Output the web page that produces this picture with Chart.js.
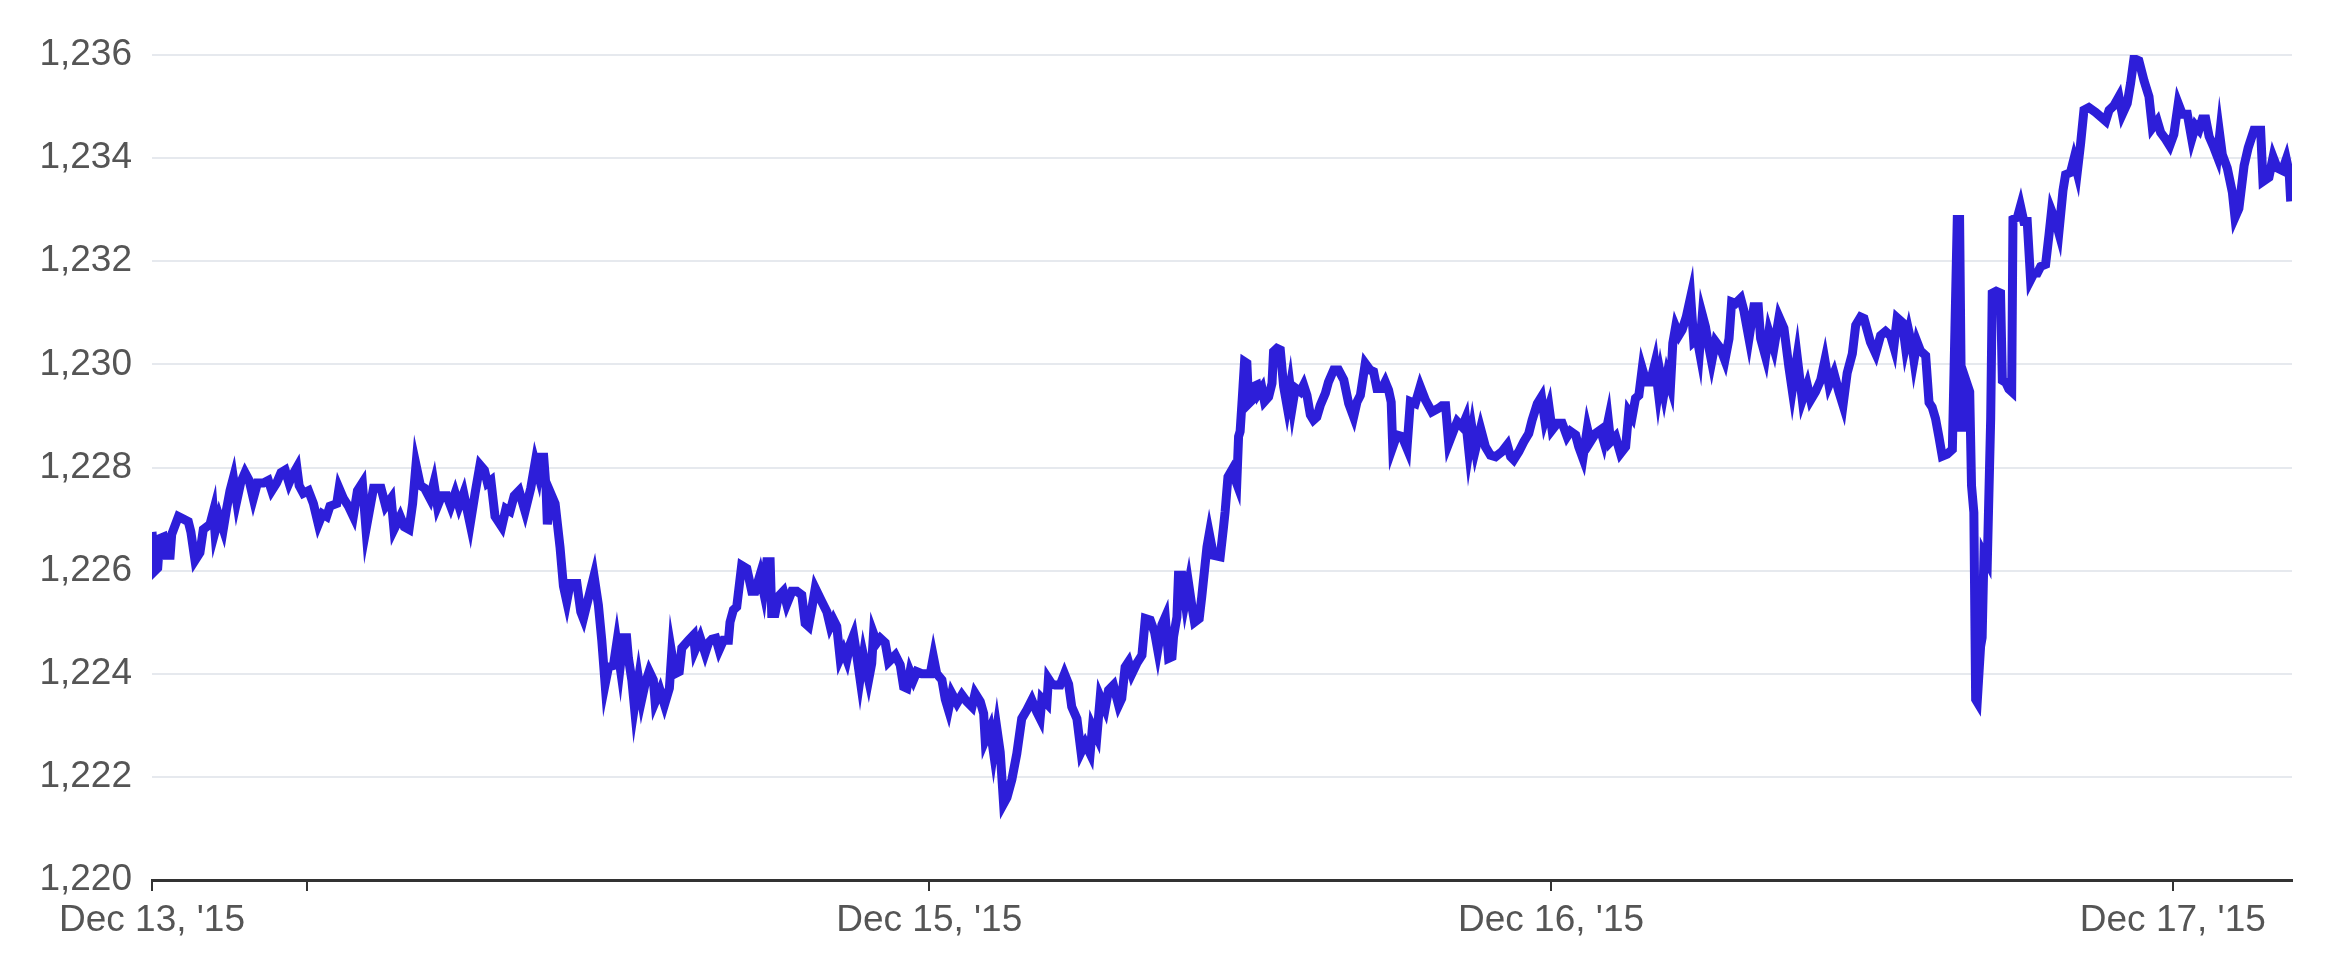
<!DOCTYPE html>
<html>
<head>
<meta charset="utf-8">
<script src="https://cdn.jsdelivr.net/npm/chart.js@4.4.1/dist/chart.umd.min.js"></script>
<style>
  html, body { margin: 0; padding: 0; background: #fff; }
  #chart { display: block; }
</style>
</head>
<body>
<canvas id="chart" width="2338" height="980"></canvas>
<script>
// hours since Dec 13 00:00
const hours = [
  18.0, 18.12, 18.22, 18.3, 18.44, 18.57, 18.7, 18.76, 19.02, 19.21,
  19.4, 19.5, 19.66, 19.85, 19.98, 20.24, 20.37, 20.43, 20.59, 20.75,
  20.88, 21.01, 21.14, 21.27, 21.42, 21.59, 21.75, 21.91, 22.07, 22.3,
  22.49, 22.62, 22.81, 22.98, 23.14, 23.29, 23.42, 23.59, 23.68, 23.84,
  24.04, 24.23, 24.42, 24.58, 24.74, 24.87, 25.13, 25.22, 25.39, 25.58,
  25.77, 25.93, 26.12, 26.26, 26.55, 26.84, 27.02, 27.23, 27.34, 27.58,
  27.74, 27.92, 28.06, 28.19, 28.36, 28.52, 28.73, 28.88, 29.02, 29.18,
  29.38, 29.53, 29.7, 29.85, 30.03, 30.28, 30.47, 30.66, 30.83, 30.95,
  31.08, 31.24, 31.5, 31.66, 31.82, 31.98, 32.17, 32.4, 32.62, 32.79,
  32.92, 33.02, 33.12, 33.21, 33.26, 33.39, 33.56, 33.75, 33.88, 34.01,
  34.14, 34.4, 34.55,
  34.65, 34.91, 35.06, 35.23, 35.36, 35.49, 35.62, 35.81, 35.94, 36.07,
  36.2, 36.32, 36.39, 36.52, 36.62, 36.78, 36.9, 37.03, 37.19, 37.35,
  37.42, 37.61, 37.78, 37.97, 38.06, 38.19, 38.35, 38.45, 38.71, 38.9,
  38.96, 39.16, 39.35, 39.48, 39.61, 39.76, 39.89, 40.06, 40.25, 40.31,
  40.44, 40.57, 40.76, 40.96, 41.15, 41.28, 41.47, 41.6, 41.73, 41.86,
  41.92, 42.05, 42.18, 42.37, 42.5, 42.7, 42.89, 43.08, 43.21, 43.34,
  43.47, 43.6, 43.85, 44.05, 44.18, 44.3, 44.43, 44.56, 44.69, 44.82,
  44.95, 45.08, 45.21, 45.33, 45.46, 45.66, 45.78, 45.85, 45.98, 46.11,
  46.3, 46.43, 46.69, 46.88, 47.01, 47.14, 47.26, 47.39, 47.52, 47.71,
  48.04, 48.16, 48.29, 48.49, 48.62, 48.74, 48.87, 49.07, 49.26, 49.45,
  49.65, 49.77, 49.97, 50.1, 50.16, 50.35, 50.48, 50.61, 50.74, 50.87,
  51.0,
  51.19, 51.38, 51.57, 51.77, 51.96, 52.15, 52.28, 52.35, 52.54, 52.6,
  52.73, 52.86, 53.05, 53.22, 53.38, 53.5, 53.7, 53.86, 54.02, 54.21,
  54.3, 54.47, 54.6, 54.79, 54.92, 55.11, 55.31, 55.43, 55.56, 55.69,
  55.82, 56.01, 56.21, 56.34, 56.53, 56.7, 56.82, 56.98, 57.11, 57.24,
  57.37, 57.43, 57.56, 57.62, 57.75, 57.88, 58.01, 58.14, 58.24, 58.42,
  58.52, 58.65, 58.72, 58.81, 58.97, 59.23, 59.36, 59.42, 59.53, 59.68,
  59.87, 59.94, 60.0, 60.09, 60.17, 60.26, 60.33, 60.45, 60.52, 60.65,
  60.71, 60.84, 60.94, 61.1, 61.23, 61.29, 61.42, 61.55, 61.68, 61.81,
  61.93, 62.02, 62.13, 62.32, 62.45, 62.58, 62.71, 62.83, 62.96, 63.09,
  63.29, 63.41, 63.61, 63.8, 64.0, 64.19, 64.38, 64.51, 64.64, 64.83,
  65.02, 65.15, 65.28, 65.47, 65.6, 65.73, 65.83, 65.89, 66.05, 66.25,
  66.44, 66.57, 66.76, 66.95, 67.15, 67.4, 67.66, 67.79, 67.93,
  68.05, 68.25, 68.38, 68.57, 68.7, 68.83, 68.96, 69.08, 69.28, 69.47,
  69.66, 69.86, 70.11, 70.31, 70.44, 70.56, 70.76, 70.95, 71.14, 71.27,
  71.47, 71.63, 71.76, 71.92, 72.04, 72.24, 72.43, 72.62, 72.75, 72.95,
  73.07, 73.23, 73.4, 73.52, 73.72, 73.91, 74.04, 74.21, 74.3, 74.49,
  74.68, 74.88, 75.0, 75.13, 75.26, 75.39, 75.52, 75.67, 75.84, 76.01,
  76.14, 76.23, 76.36, 76.48, 76.61, 76.7, 76.81, 76.94, 77.06, 77.22,
  77.39, 77.51, 77.64, 77.73, 77.84, 77.96, 78.09, 78.2, 78.35, 78.54,
  78.71, 78.87, 78.97, 79.12, 79.32, 79.44, 79.64, 79.83, 80.0, 80.09,
  80.28, 80.41, 80.6, 80.8, 80.99, 81.18, 81.31, 81.5, 81.7, 81.89,
  82.02, 82.21, 82.41, 82.57, 82.73, 82.92, 83.11, 83.27, 83.43, 83.63,
  83.76, 83.95, 84.08,
  84.33, 84.53, 84.72, 84.91, 85.11, 85.23, 85.36, 85.56, 85.68, 85.81,
  85.94, 86.01, 86.13, 86.26, 86.46, 86.59, 86.71, 86.84, 86.97, 87.1,
  87.29, 87.49, 87.59, 87.68, 87.77, 87.85, 87.94, 88.03, 88.1, 88.16,
  88.23, 88.32, 88.39, 88.45, 88.58, 88.64, 88.71, 88.84, 88.97, 89.03,
  89.18, 89.35, 89.42, 89.55, 89.67, 89.78, 89.83, 90.0, 90.12, 90.25,
  90.38, 90.51, 90.64, 90.77, 90.9, 91.09, 91.22, 91.32, 91.48, 91.6,
  91.76, 91.86, 92.05, 92.18, 92.31, 92.44, 92.57, 92.76, 93.02, 93.41,
  93.54, 93.73, 93.92, 94.05, 94.24, 94.37, 94.5, 94.69, 94.89, 95.08,
  95.21, 95.4, 95.53, 95.72, 95.88, 96.04, 96.21, 96.37, 96.56, 96.73,
  96.88, 97.01, 97.14, 97.27, 97.4, 97.59, 97.72, 97.81, 97.91, 98.1,
  98.3, 98.4, 98.55, 98.75, 98.91, 99.13, 99.39, 99.48, 99.71, 99.87,
  100.03, 100.23, 100.38, 100.49, 100.55
];

const prices = [
  1226.75, 1226.0, 1226.05, 1226.62, 1226.65, 1226.3, 1226.3, 1226.7, 1227.05, 1227.0,
  1226.95, 1226.75, 1226.2, 1226.35, 1226.8, 1226.9, 1227.15, 1226.75, 1227.05, 1226.8,
  1227.2, 1227.55, 1227.8, 1227.35, 1227.7, 1227.9, 1227.75, 1227.4, 1227.7, 1227.7,
  1227.75, 1227.55, 1227.7, 1227.9, 1227.95, 1227.7, 1227.85, 1228.0, 1227.65, 1227.5,
  1227.55, 1227.3, 1226.9, 1227.1, 1227.05, 1227.25, 1227.3, 1227.6, 1227.4, 1227.25,
  1227.05, 1227.55, 1227.7, 1226.8, 1227.6, 1227.6, 1227.25, 1227.4, 1226.8, 1227.05,
  1226.85, 1226.8, 1227.3, 1228.05, 1227.65, 1227.6, 1227.4, 1227.7, 1227.25, 1227.45,
  1227.45, 1227.25, 1227.5, 1227.25, 1227.5, 1226.9, 1227.5, 1228.05, 1227.95, 1227.7,
  1227.75, 1227.05, 1226.85, 1227.2, 1227.15, 1227.45, 1227.55, 1227.15, 1227.6, 1228.1,
  1227.85, 1228.2, 1228.2, 1227.6, 1226.9, 1227.5, 1227.3, 1226.45, 1225.7, 1225.4,
  1225.75, 1225.75, 1225.2,
  1225.07, 1225.6, 1225.9, 1225.33, 1224.65, 1223.8, 1224.13, 1224.16, 1224.6, 1224.13,
  1224.7, 1224.7, 1224.3, 1223.88, 1223.36, 1223.9, 1223.5, 1223.8, 1224.05, 1223.88,
  1223.45, 1223.68, 1223.4, 1223.72, 1224.4, 1224.0, 1224.04, 1224.5, 1224.65, 1224.75,
  1224.46, 1224.7, 1224.4, 1224.6, 1224.67, 1224.69, 1224.46, 1224.65, 1224.65, 1225.0,
  1225.24, 1225.3, 1226.1, 1226.04, 1225.6, 1225.6, 1225.92, 1225.6, 1226.17, 1226.17,
  1225.17, 1225.17, 1225.5, 1225.6, 1225.35, 1225.6, 1225.6, 1225.53, 1224.98, 1224.92,
  1225.27, 1225.66, 1225.4, 1225.2, 1224.92, 1225.05, 1224.92, 1224.3, 1224.45, 1224.27,
  1224.58, 1224.75, 1224.33, 1223.9, 1224.36, 1223.88, 1224.2, 1224.78, 1224.6, 1224.69,
  1224.6, 1224.23, 1224.36, 1224.17, 1223.75, 1223.72, 1224.04, 1223.88, 1224.04, 1224.0,
  1224.0, 1224.33, 1224.0, 1223.88, 1223.5, 1223.3, 1223.62, 1223.43, 1223.59, 1223.46,
  1223.36, 1223.62, 1223.46, 1223.23, 1222.71, 1222.94, 1222.48, 1222.94, 1222.48, 1221.48,
  1221.6,
  1221.95, 1222.45, 1223.13, 1223.3, 1223.49, 1223.26, 1223.13, 1223.52, 1223.42, 1223.9,
  1223.8, 1223.78, 1223.78, 1224.0, 1223.8, 1223.36, 1223.13, 1222.48, 1222.65, 1222.45,
  1222.97, 1222.78, 1223.55, 1223.32, 1223.68, 1223.78, 1223.39, 1223.52, 1224.13, 1224.23,
  1224.0, 1224.2, 1224.36, 1225.07, 1225.04, 1224.8, 1224.46, 1224.95, 1225.1, 1224.3,
  1224.33, 1224.72, 1225.1, 1225.91, 1225.91, 1225.4, 1225.75, 1225.3, 1225.0, 1225.07,
  1225.5, 1226.13, 1226.46, 1226.72, 1226.3, 1226.27, 1226.85, 1227.14, 1227.82, 1227.95,
  1227.69, 1228.6, 1228.7, 1229.4, 1230.05, 1230.02, 1229.24, 1229.3, 1229.57, 1229.6,
  1229.44, 1229.54, 1229.28, 1229.37, 1229.63, 1230.25, 1230.31, 1230.28, 1229.57, 1229.2,
  1229.57, 1229.2, 1229.54, 1229.47, 1229.6, 1229.4, 1229.02, 1228.92, 1228.98, 1229.2,
  1229.44, 1229.66, 1229.89, 1229.89, 1229.7, 1229.24, 1228.98, 1229.27, 1229.4, 1230.02,
  1229.89, 1229.86, 1229.53, 1229.53, 1229.66, 1229.5, 1229.27, 1228.4, 1228.63, 1228.6,
  1228.37, 1229.28, 1229.24, 1229.57, 1229.31, 1229.08, 1229.15, 1229.2, 1229.2,
  1228.47, 1228.73, 1228.89, 1228.79, 1228.95, 1228.31, 1228.73, 1228.34, 1228.76, 1228.4,
  1228.24, 1228.21, 1228.31, 1228.44, 1228.21, 1228.15, 1228.31, 1228.5, 1228.66, 1228.92,
  1229.24, 1229.37, 1228.92, 1229.18, 1228.73, 1228.86, 1228.86, 1228.6, 1228.7, 1228.63,
  1228.4, 1228.18, 1228.76, 1228.5, 1228.66, 1228.73, 1228.5, 1228.92, 1228.5, 1228.6,
  1228.27, 1228.4, 1229.08, 1228.98, 1229.34, 1229.4, 1229.92, 1229.66, 1229.66, 1230.02,
  1229.47, 1229.79, 1229.44, 1229.79, 1229.57, 1230.41, 1230.73, 1230.57, 1230.67, 1230.92,
  1231.31, 1230.44, 1230.5, 1230.25, 1230.96, 1230.73, 1230.34, 1230.05, 1230.44, 1230.31,
  1230.08, 1230.5, 1231.21, 1231.18, 1231.28, 1231.05, 1230.5, 1231.12, 1231.12, 1230.5,
  1230.15, 1230.63, 1230.31, 1230.92, 1230.7, 1229.95, 1229.5, 1230.15, 1229.31, 1229.6,
  1229.31, 1229.47, 1229.7, 1230.08, 1229.6, 1229.83, 1229.47, 1229.21, 1229.83, 1230.21,
  1230.76, 1230.92, 1230.89,
  1230.43, 1230.21, 1230.56, 1230.64, 1230.55, 1230.34, 1230.9, 1230.81, 1230.34, 1230.64,
  1230.34, 1230.08, 1230.43, 1230.26, 1230.17, 1229.26, 1229.17, 1228.95, 1228.6, 1228.22,
  1228.26, 1228.35, 1230.69, 1232.81, 1232.81, 1228.7, 1229.56, 1228.7, 1229.56, 1229.47,
  1227.65, 1227.13, 1223.5, 1223.45, 1224.53, 1224.7, 1226.31, 1226.18, 1228.95, 1231.38,
  1231.42, 1231.38, 1229.69, 1229.65, 1229.52, 1229.47, 1232.81, 1232.85, 1233.07, 1232.77,
  1232.77, 1231.64, 1231.77, 1231.77, 1231.9, 1231.94, 1232.51, 1232.98, 1232.77, 1232.55,
  1233.37, 1233.68, 1233.72, 1233.98, 1233.72, 1234.28, 1234.93, 1234.98, 1234.89, 1234.72,
  1234.93, 1235.02, 1235.19, 1234.85, 1235.06, 1235.45, 1235.93, 1235.89, 1235.5, 1235.19,
  1234.59, 1234.72, 1234.5, 1234.37, 1234.24, 1234.46, 1235.06, 1234.85, 1234.85, 1234.37,
  1234.63, 1234.55, 1234.76, 1234.76, 1234.42, 1234.2, 1234.03, 1234.46, 1234.07, 1233.81,
  1233.33, 1232.85, 1233.02, 1233.85, 1234.2, 1234.54, 1234.54, 1233.55, 1233.63, 1234.02,
  1233.81, 1233.76, 1233.98, 1233.72, 1233.16
];

// x axis ticks (hours) and their labels
const tickHours = [18, 24, 48, 72, 96];
const tickLabels = ["Dec 13, '15", "", "Dec 15, '15", "Dec 16, '15", "Dec 17, '15"];

const lineColor = "#2d1ed9";
const labelFont = { family: "'Liberation Sans', Arial, sans-serif", size: 37 };

const points = hours.map((h, i) => ({ x: h, y: prices[i] }));

const ctx = document.getElementById("chart");
const chart = new Chart(ctx, {
  type: "line",
  data: {
    datasets: [
      {
        data: points,
        borderColor: lineColor,
        borderWidth: 9,
        pointRadius: 0,
        tension: 0,
        fill: false,
      },
    ],
  },
  options: {
    responsive: false,
    animation: false,
    layout: { padding: { top: 55, right: 46, left: 0, bottom: 0 } },
    plugins: {
      legend: { display: false },
      tooltip: { enabled: false },
    },
    scales: {
      x: {
        type: "linear",
        min: 18,
        max: 100.6,
        afterBuildTicks: (scale) => {
          scale.ticks = tickHours.map((v) => ({ value: v }));
        },
        afterFit: (scale) => {
          scale.height = 100;
        },
        ticks: {
          autoSkip: false,
          maxRotation: 0,
          padding: 8,
          color: "#555",
          font: labelFont,
          callback: (value, index) => tickLabels[index],
        },
        grid: {
          drawOnChartArea: false,
          drawTicks: true,
          tickLength: 11,
          color: "#333",
          lineWidth: 2,
        },
        border: { color: "#333", width: 3 },
      },
      y: {
        min: 1220,
        max: 1236,
        afterFit: (scale) => {
          scale.width = 152;
        },
        ticks: {
          stepSize: 2,
          padding: 20,
          color: "#555",
          font: labelFont,
        },
        grid: {
          color: "#e6e9ee",
          lineWidth: 2,
          drawTicks: false,
        },
        border: { display: false },
      },
    },
  },
});
</script>
</body>
</html>
